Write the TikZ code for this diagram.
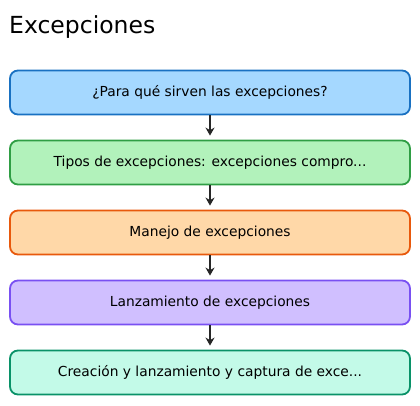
\documentclass[tikz,border=0pt]{standalone}
\usepackage{fontspec}
\setmainfont{DejaVu Sans}
\usetikzlibrary{arrows.meta}

\definecolor{bluefill}{HTML}{A5D8FF}
\definecolor{blueline}{HTML}{1971C2}
\definecolor{greenfill}{HTML}{B2F2BB}
\definecolor{greenline}{HTML}{2F9E44}
\definecolor{orangefill}{HTML}{FFD8A8}
\definecolor{orangeline}{HTML}{E8590C}
\definecolor{violetfill}{HTML}{D0BFFF}
\definecolor{violetline}{HTML}{7950F2}
\definecolor{tealfill}{HTML}{C3FAE8}
\definecolor{tealline}{HTML}{099268}

\tikzset{
  topicbox/.style={draw, line width=1.8pt, rounded corners=8pt,
    minimum width=400pt, minimum height=44pt, font=\fontsize{13.8}{15}\selectfont},
  flow/.style={-{Stealth[length=8pt,width=9pt,inset=2.5pt]}, line width=2pt,
    draw=black!85, shorten >=4pt}
}

\begin{document}
\begin{tikzpicture}[x=1pt,y=-1pt]
        % Page frame
        \useasboundingbox (0,0) rectangle (420,405);

        % Title
        \node[anchor=west, font=\fontsize{23.5}{26}\selectfont, inner sep=0pt] (title) at (9,27) {Excepciones};

        % Topic boxes
        \node[topicbox, fill=bluefill, draw=blueline] (why) at (210,92.5) {¿Para qué sirven las excepciones?};
        \node[topicbox, fill=greenfill, draw=greenline] (types) at (210,162.5) {Tipos de excepciones: excepciones compro...};
        \node[topicbox, fill=orangefill, draw=orangeline] (handle) at (210,232.5) {Manejo de excepciones};
        \node[topicbox, fill=violetfill, draw=violetline] (throw) at (210,302.5) {Lanzamiento de excepciones};
        \node[topicbox, fill=tealfill, draw=tealline] (create) at (210,372.5) {Creación y lanzamiento y captura de exce...};

        % Arrows between boxes
        \draw[flow] (why) -- (types);
        \draw[flow] (types) -- (handle);
        \draw[flow] (handle) -- (throw);
        \draw[flow] (throw) -- (create);

    \end{tikzpicture}
\end{document}
